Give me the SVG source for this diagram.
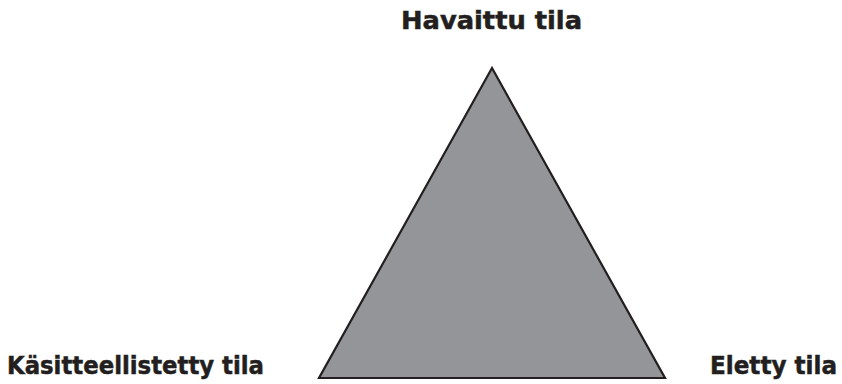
<svg xmlns="http://www.w3.org/2000/svg" width="842" height="384" viewBox="0 0 842 384">
<style>
.lbl{font-family:"DejaVu Sans","Liberation Sans",sans-serif;font-weight:bold;font-size:24px;fill:#231f20;stroke:#231f20;stroke-width:0.5}
.tri{fill:#939598;stroke:#231f20;stroke-width:2.2;stroke-linejoin:miter}
</style>
<rect width="842" height="384" fill="#ffffff"/>
<g id="triangle">
<polygon class="tri" points="492,68 319,378 665,378"/>
</g>
<g id="connectors"></g>
<g id="havaittu">
<text class="lbl" x="401" y="29" textLength="181" lengthAdjust="spacingAndGlyphs">Havaittu tila</text>
</g>
<g id="kasitteellistetty">
<text class="lbl" x="7" y="374" textLength="257" lengthAdjust="spacingAndGlyphs">Käsitteellistetty tila</text>
</g>
<g id="eletty">
<text class="lbl" x="710" y="374" textLength="127" lengthAdjust="spacingAndGlyphs">Eletty tila</text>
</g>
</svg>
